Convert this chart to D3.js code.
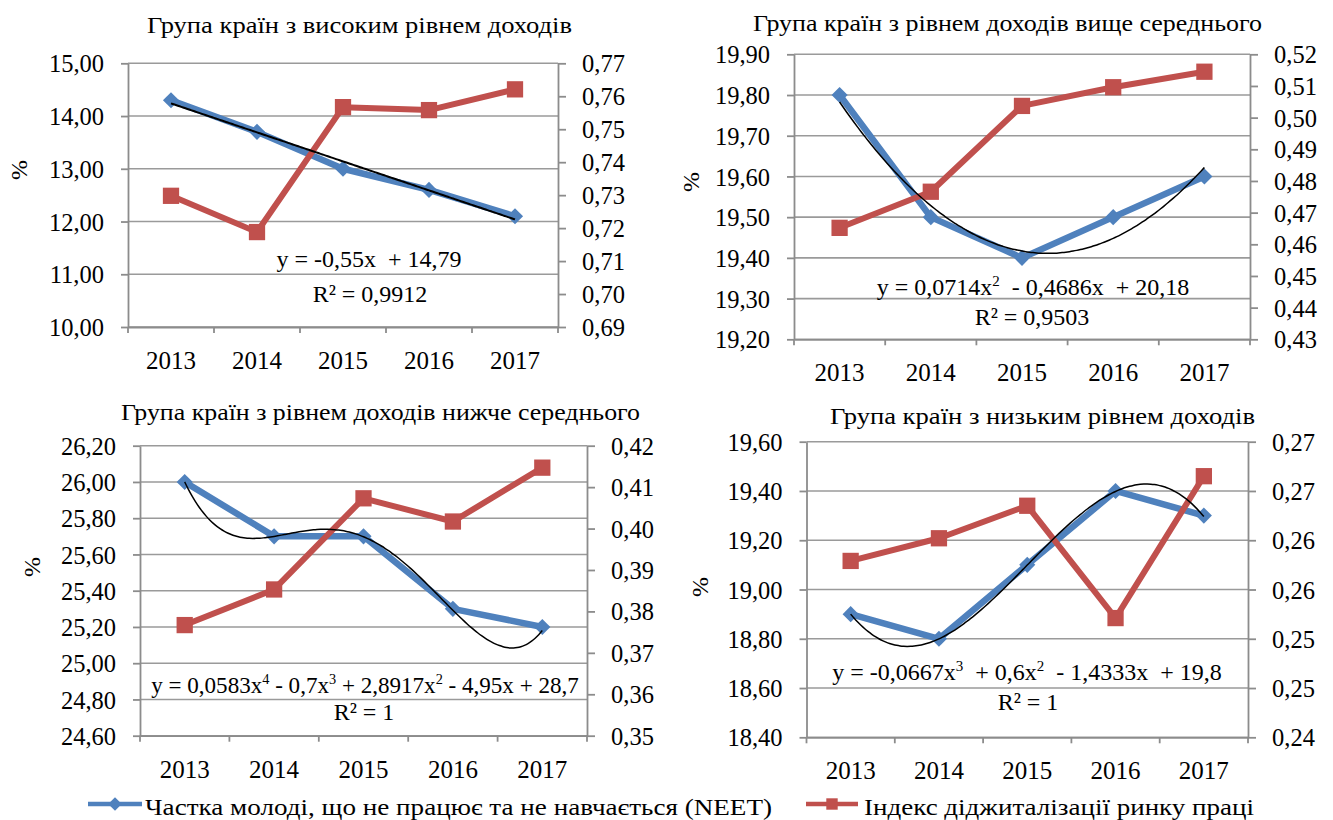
<!DOCTYPE html>
<html>
<head>
	<meta charset="UTF-8"/>
	<title>NEET та індекс діджиталізації ринку праці</title>
	<style type="text/css">
		body {
		margin: 0;
		background: #fff;
		}

		svg {
		display: block;
		}

		text {
		font-family: 'Liberation Serif', 'Times New Roman', serif;
		fill: #000;
		}

		.grid line {
		stroke: #9a9a9a;
		stroke-width: 1.6;
		}

		.axis path, .axis line {
		stroke: #8c8c8c;
		stroke-width: 1.8;
		}

		.axis text {
		font-family: 'Liberation Serif', 'Times New Roman', serif;
		font-size: 24.5px;
		}

		text.title {
		font-size: 24px;
		}

		text.eq {
		font-size: 24px;
		}

		text.legend {
		font-size: 24px;
		}
	</style>
	<script src="https://d3js.org/d3.v7.min.js"></script>
</head>
<body>
	<svg width="1333" height="820"></svg>
	<script>
		// data
		const years = ['2013', '2014', '2015', '2016', '2017'];

		const seriesNames = [
			'Частка молоді, що не працює та не навчається (NEET)',
			'Індекс діджиталізації ринку праці'
		];

		const titles = [
			'Група країн з високим рівнем доходів',
			'Група країн з рівнем доходів вище середнього',
			'Група країн з рівнем доходів нижче середнього',
			'Група країн з низьким рівнем доходів'
		];

		// NEET, % (left axis)
		const neetHigh = [14.3, 13.7, 13.0, 12.6, 12.1];
		const neetUpperMid = [19.8, 19.5, 19.4, 19.5, 19.6];
		const neetLowerMid = [26.0, 25.7, 25.7, 25.3, 25.2];
		const neetLow = [18.9, 18.8, 19.1, 19.4, 19.3];

		// digitalisation index (right axis)
		const digHigh = [0.7298, 0.7188, 0.7567, 0.7558, 0.7621];
		const digUpperMid = [0.4652, 0.4766, 0.5037, 0.5096, 0.5145];
		const digLowerMid = [0.3767, 0.3853, 0.4073, 0.4017, 0.4147];
		const digLow = [0.2579, 0.2602, 0.2635, 0.2521, 0.2665];

		// trend line coefficients, constant term first (x = 1..5)
		const trendHigh = [14.79, -0.55];
		const trendUpperMid = [20.18, -0.4686, 0.0714];
		const trendLowerMid = [28.7, -4.95, 2.8917, -0.7, 0.0583];
		const trendLow = [19.8, -1.4333, 0.6, -0.0667];

		// trend equations, [text, superscript?]
		const eqHigh = [['y = -0,55x  + 14,79', false]];
		const eqUpperMid = [['y = 0,0714x', false], ['2', true], ['  - 0,4686x  + 20,18', false]];
		const eqLowerMid = [['y = 0,0583x', false], ['4', true], [' - 0,7x', false], ['3', true],
			[' + 2,8917x', false], ['2', true], [' - 4,95x + 28,7', false]];
		const eqLow = [['y = -0,0667x', false], ['3', true], ['  + 0,6x', false], ['2', true],
			['  - 1,4333x  + 19,8', false]];
		const r2High = 'R² = 0,9912';
		const r2UpperMid = 'R² = 0,9503';
		const r2LowerMid = 'R² = 1';
		const r2Low = 'R² = 1';

		// axis ranges and tick labels
		const leftTicksHigh = [10, 11, 12, 13, 14, 15];
		const leftLabelsHigh = ['10,00', '11,00', '12,00', '13,00', '14,00', '15,00'];
		const rightTicksHigh = [0.69, 0.70, 0.71, 0.72, 0.73, 0.74, 0.75, 0.76, 0.77];
		const rightLabelsHigh = ['0,69', '0,70', '0,71', '0,72', '0,73', '0,74', '0,75', '0,76', '0,77'];

		const leftTicksUpperMid = [19.2, 19.3, 19.4, 19.5, 19.6, 19.7, 19.8, 19.9];
		const leftLabelsUpperMid = ['19,20', '19,30', '19,40', '19,50', '19,60', '19,70', '19,80', '19,90'];
		const rightTicksUpperMid = [0.43, 0.44, 0.45, 0.46, 0.47, 0.48, 0.49, 0.50, 0.51, 0.52];
		const rightLabelsUpperMid = ['0,43', '0,44', '0,45', '0,46', '0,47', '0,48', '0,49', '0,50', '0,51', '0,52'];

		const leftTicksLowerMid = [24.6, 24.8, 25.0, 25.2, 25.4, 25.6, 25.8, 26.0, 26.2];
		const leftLabelsLowerMid = ['24,60', '24,80', '25,00', '25,20', '25,40', '25,60', '25,80', '26,00', '26,20'];
		const rightTicksLowerMid = [0.35, 0.36, 0.37, 0.38, 0.39, 0.40, 0.41, 0.42];
		const rightLabelsLowerMid = ['0,35', '0,36', '0,37', '0,38', '0,39', '0,40', '0,41', '0,42'];

		const leftTicksLow = [18.4, 18.6, 18.8, 19.0, 19.2, 19.4, 19.6];
		const leftLabelsLow = ['18,40', '18,60', '18,80', '19,00', '19,20', '19,40', '19,60'];
		const rightTicksLow = [0.24, 0.245, 0.25, 0.255, 0.26, 0.265, 0.27];
		const rightLabelsLow = ['0,24', '0,25', '0,25', '0,26', '0,26', '0,27', '0,27'];

		const panels = [
			{ title: titles[0], neet: neetHigh, dig: digHigh, trend: trendHigh, eq: eqHigh, r2: r2High,
				lt: leftTicksHigh, ll: leftLabelsHigh, rt: rightTicksHigh, rl: rightLabelsHigh },
			{ title: titles[1], neet: neetUpperMid, dig: digUpperMid, trend: trendUpperMid, eq: eqUpperMid, r2: r2UpperMid,
				lt: leftTicksUpperMid, ll: leftLabelsUpperMid, rt: rightTicksUpperMid, rl: rightLabelsUpperMid },
			{ title: titles[2], neet: neetLowerMid, dig: digLowerMid, trend: trendLowerMid, eq: eqLowerMid, r2: r2LowerMid,
				lt: leftTicksLowerMid, ll: leftLabelsLowerMid, rt: rightTicksLowerMid, rl: rightLabelsLowerMid },
			{ title: titles[3], neet: neetLow, dig: digLow, trend: trendLow, eq: eqLow, r2: r2Low,
				lt: leftTicksLow, ll: leftLabelsLow, rt: rightTicksLow, rl: rightLabelsLow }
		];

		// layout of each panel (plot box, title, equation and label places)
		const layout = [
			{ x0: 128, x1: 558, y0: 63.3, y1: 327, tx0: 147, tx1: 572, ty: 33, px: 19, py: 170,
				ex: 369, ey: 267, ew: 194, rx: 370, ry: 302, yy: 369 },
			{ x0: 794, x1: 1250, y0: 54.3, y1: 339.3, tx0: 753, tx1: 1262, ty: 31, px: 691, py: 182,
				ex: 1033, ey: 295, ew: 330, rx: 1032, ry: 325, yy: 381 },
			{ x0: 140, x1: 587, y0: 445.7, y1: 735.7, tx0: 121, tx1: 640, ty: 420, px: 32, py: 567,
				ex: 365, ey: 693, ew: 428, rx: 364, ry: 720, yy: 778 },
			{ x0: 806.5, x1: 1248, y0: 441.7, y1: 737.3, tx0: 830, tx1: 1255, ty: 424, px: 700, py: 587,
				ex: 1027, ey: 680, ew: 413, rx: 1028, ry: 710, yy: 779 }
		];

		const blue = '#4f81bd';
		const red = '#c0504d';

		const svg = d3.select('svg');

		const diamond = d3.symbol().type(d3.symbolSquare).size(130);
		const square = d3.symbol().type(d3.symbolSquare).size(265);

		panels.forEach((p, k) => {
			const L = layout[k];
			const g = svg.append('g');

			const x = d3.scaleBand().domain(years).range([L.x0, L.x1]);
			const cx = (d) => x(d) + x.bandwidth() / 2;
			const yL = d3.scaleLinear().domain(d3.extent(p.lt)).range([L.y1, L.y0]);
			const yR = d3.scaleLinear().domain(d3.extent(p.rt)).range([L.y1, L.y0]);

			// horizontal gridlines
			g.append('g')
				.attr('class', 'grid')
				.selectAll('line')
				.data(p.lt)
				.join('line')
				.attr('x1', L.x0)
				.attr('x2', L.x1)
				.attr('y1', (d) => yL(d))
				.attr('y2', (d) => yL(d));

			// left axis
			const left = g.append('g')
				.attr('class', 'axis')
				.attr('transform', `translate(${L.x0},0)`)
				.call(d3.axisLeft(yL).tickValues(p.lt).tickFormat((d, i) => p.ll[i]).tickSize(7).tickSizeOuter(0).tickPadding(17));
			left.selectAll('text').attr('dy', '0.35em');

			// right axis
			const right = g.append('g')
				.attr('class', 'axis')
				.attr('transform', `translate(${L.x1},0)`)
				.call(d3.axisRight(yR).tickValues(p.rt).tickFormat((d, i) => p.rl[i]).tickSize(8).tickSizeOuter(0).tickPadding(16));
			right.selectAll('text').attr('dy', '0.35em');

			// bottom axis, ticks between the categories
			const bottom = g.append('g')
				.attr('class', 'axis')
				.attr('transform', `translate(0,${L.y1})`)
				.call(d3.axisBottom(x).tickSize(0).tickSizeOuter(0));
			bottom.selectAll('text').attr('y', L.yy - L.y1).attr('dy', 0).style('font-size', '25px');
			bottom.selectAll('.sep')
				.data(d3.range(years.length + 1))
				.join('line')
				.attr('class', 'sep')
				.attr('x1', (i) => L.x0 + i * x.bandwidth())
				.attr('x2', (i) => L.x0 + i * x.bandwidth())
				.attr('y1', 0)
				.attr('y2', 6);

			// NEET line
			const lineL = d3.line().x((d, i) => cx(years[i])).y((d) => yL(d));
			g.append('path')
				.attr('d', lineL(p.neet))
				.attr('fill', 'none')
				.attr('stroke', blue)
				.attr('stroke-width', 6.5)
				.attr('stroke-linejoin', 'round');
			g.selectAll('.dia')
				.data(p.neet)
				.join('path')
				.attr('class', 'dia')
				.attr('d', diamond)
				.attr('fill', blue)
				.attr('transform', (d, i) => `translate(${cx(years[i])},${yL(d)}) rotate(45)`);

			// digitalisation line
			const lineR = d3.line().x((d, i) => cx(years[i])).y((d) => yR(d));
			g.append('path')
				.attr('d', lineR(p.dig))
				.attr('fill', 'none')
				.attr('stroke', red)
				.attr('stroke-width', 6)
				.attr('stroke-linejoin', 'round');
			g.selectAll('.sq')
				.data(p.dig)
				.join('path')
				.attr('class', 'sq')
				.attr('d', square)
				.attr('fill', red)
				.attr('transform', (d, i) => `translate(${cx(years[i])},${yR(d)})`);

			// trend line from the equation shown on the chart
			const tx = d3.scaleLinear().domain([1, years.length]).range([cx(years[0]), cx(years[years.length - 1])]);
			const poly = (t) => p.trend.reduce((s, c, n) => s + c * Math.pow(t, n), 0);
			const ts = d3.range(1, years.length + 0.001, 0.04);
			g.append('path')
				.attr('d', d3.line().x((t) => tx(t)).y((t) => yL(poly(t))).curve(d3.curveMonotoneX)(ts))
				.attr('fill', 'none')
				.attr('stroke', '#000')
				.attr('stroke-width', k === 0 ? 2 : 1.5);

			// title
			g.append('text')
				.attr('class', 'title')
				.attr('x', L.tx0)
				.attr('y', L.ty)
				.attr('textLength', L.tx1 - L.tx0)
				.attr('lengthAdjust', 'spacingAndGlyphs')
				.text(p.title);

			// axis title
			g.append('text')
				.attr('transform', `translate(${L.px},${L.py}) rotate(-90)`)
				.attr('text-anchor', 'middle')
				.attr('dy', '0.35em')
				.style('font-size', '24px')
				.text('%');

			// equation, font shrunk until it fits the width seen in the picture
			const eq = g.append('text')
				.attr('class', 'eq')
				.attr('x', L.ex)
				.attr('y', L.ey)
				.attr('text-anchor', 'middle')
				.style('white-space', 'pre');
			let up = false;
			p.eq.forEach(([s, sup]) => {
				const t = eq.append('tspan').text(s);
				if (sup) {
					t.attr('class', 'sup').attr('dy', -9);
					up = true;
				} else if (up) {
					t.attr('dy', 9);
					up = false;
				}
			});
			eq.selectAll('.sup').style('font-size', '15px');
			const natural = eq.node().getComputedTextLength();
			if (natural > L.ew) {
				const fs = 24 * L.ew / natural;
				eq.style('font-size', fs + 'px');
				eq.selectAll('.sup').style('font-size', (fs * 0.62) + 'px');
			}

			g.append('text')
				.attr('class', 'eq')
				.attr('x', L.rx)
				.attr('y', L.ry)
				.attr('text-anchor', 'middle')
				.text(p.r2);
		});

		// legend
		const legend = svg.append('g');
		const legendItems = [
			{ name: seriesNames[0], color: blue, lx0: 88, lx1: 142, tx0: 145, tx1: 772, mark: 'diamond' },
			{ name: seriesNames[1], color: red, lx0: 806, lx1: 858, tx0: 864, tx1: 1254, mark: 'square' }
		];
		legendItems.forEach((it) => {
			legend.append('line')
				.attr('x1', it.lx0)
				.attr('x2', it.lx1)
				.attr('y1', 804)
				.attr('y2', 804)
				.attr('stroke', it.color)
				.attr('stroke-width', 4.5);
			legend.append('path')
				.attr('d', d3.symbol().type(d3.symbolSquare).size(it.mark === 'diamond' ? 90 : 130)())
				.attr('fill', it.color)
				.attr('transform', `translate(${(it.lx0 + it.lx1) / 2},804)` + (it.mark === 'diamond' ? ' rotate(45)' : ''));
			legend.append('text')
				.attr('class', 'legend')
				.attr('x', it.tx0)
				.attr('y', 815)
				.attr('textLength', it.tx1 - it.tx0)
				.attr('lengthAdjust', 'spacingAndGlyphs')
				.text(it.name);
		});
	</script>
</body>
</html>
